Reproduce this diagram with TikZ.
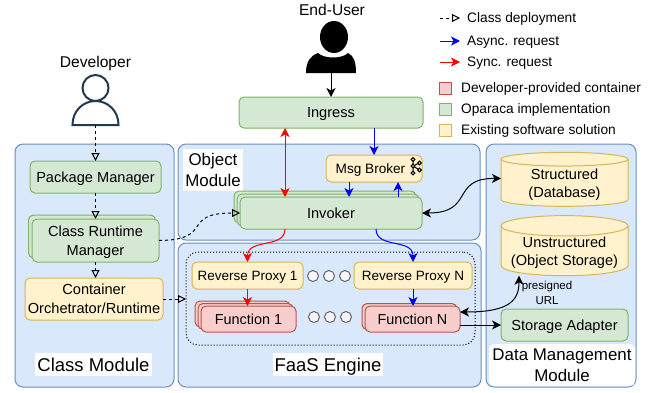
\documentclass[tikz,border=0pt]{standalone}
\usepackage{fontspec}
\setmainfont{Liberation Sans}
\usetikzlibrary{arrows.meta,shapes.geometric}
\definecolor{modfill}{HTML}{DAE8FC}
\definecolor{modline}{HTML}{6C8EBF}
\definecolor{gfill}{HTML}{D5E8D4}
\definecolor{gline}{HTML}{82B366}
\definecolor{yfill}{HTML}{FFF2CC}
\definecolor{yline}{HTML}{D6B656}
\definecolor{rfill}{HTML}{F8CECC}
\definecolor{rline}{HTML}{B85450}
\definecolor{devline}{HTML}{23394F}
\begin{document}
\begin{tikzpicture}[x=1pt, y=-1pt, >={Stealth[length=9pt,width=9pt,inset=2.5pt]},
	box/.style={draw, rounded corners=5pt, inner sep=0pt, outer sep=0pt, line width=1pt, align=center, text depth=0pt, font=\fontsize{14.6}{19}\selectfont},
	modbox/.style={box, draw=modline, fill=modfill, rounded corners=8pt},
	gbox/.style={box, draw=gline, fill=gfill},
	ybox/.style={box, draw=yline, fill=yfill},
	rbox/.style={box, draw=rline, fill=rfill},
	store/.style={cylinder, shape border rotate=90, aspect=0.19, draw=yline, fill=yfill, line width=1pt, inner sep=0pt, outer sep=0pt, align=center, text depth=0pt, minimum width=127pt, minimum height=54pt, font=\fontsize{14.6}{18.5}\selectfont},
	title/.style={fill=white, inner sep=0pt, align=center, text depth=0pt},
	dotnode/.style={circle, draw=black!60, fill=black!4, line width=1pt, inner sep=0pt, outer sep=0pt, minimum size=11pt},
	swatch/.style={draw, line width=1pt, inner sep=0pt, minimum size=12pt},
	legend/.style={anchor=west, inner sep=0pt, text depth=0pt, font=\fontsize{13.7}{16}\selectfont},
	deploy/.style={line width=1pt, dash pattern=on 3pt off 3pt, -{Triangle[open,length=8pt,width=8pt]}},
	async/.style={blue, line width=1pt, ->},
	sync/.style={red, line width=1pt, ->}]
	\useasboundingbox (0,0) rectangle (660,392);
	\node[modbox, minimum width=159pt, minimum height=243pt] (classmod) at (94.5,265.5) {};
	\node[modbox, minimum width=302pt, minimum height=96pt] (objmod) at (329,192) {};
	\node[modbox, minimum width=303pt, minimum height=144pt] (faasmod) at (329.5,315) {};
	\node[modbox, minimum width=150pt, minimum height=243pt] (datamod) at (561,265.5) {};
	\node[title, minimum width=117pt, minimum height=23pt, font=\fontsize{18.5}{22}\selectfont] (classlabel) at (93.5,364.5) {Class Module};
	\node[title, minimum width=110pt, minimum height=23pt, font=\fontsize{18.5}{22}\selectfont] (faaslabel) at (328,364.5) {FaaS Engine};
	\node[title, minimum width=60pt, minimum height=42pt, font=\fontsize{16.9}{21}\selectfont] (objlabel) at (213,170) {Object\\Module};
	\node[title, rounded corners=5pt, minimum width=146pt, minimum height=42pt, font=\fontsize{16.9}{20.7}\selectfont] (datalabel) at (562,365) {Data Management\\Module};
	\node[draw, dotted, line width=1pt, rounded corners=12pt, inner sep=0pt, outer sep=0pt, minimum width=289pt, minimum height=93pt] (engine) at (330.5,298.5) {};
	\node[inner sep=0pt, text depth=0pt, font=\fontsize{15.6}{18}\selectfont] (developer) at (95.5,62) {Developer};
	\draw[devline, line width=2pt] (95.5,88) circle (13pt);
	\draw[devline, line width=2pt] (72.5,125) .. controls (72.5,110) and (84,101) .. (95.5,101) .. controls (107,101) and (118.5,110) .. (118.5,125) -- cycle;
	\coordinate (devbase) at (95.5,125);
	\node[inner sep=0pt, text depth=0pt, font=\fontsize{15.6}{18}\selectfont] (enduser) at (332,9.5) {End-User};
	\fill[black] (334,37) ellipse [x radius=14pt, y radius=16pt];
	\fill[black] (306,73) .. controls (306,62) and (310,56) .. (318,53) .. controls (324,59) and (342,59) .. (348,53) .. controls (354,56) and (356,62) .. (356,73) -- cycle;
	\coordinate (userbase) at (331,73);
	\node[gbox, minimum width=184pt, minimum height=31pt] (ingress) at (331,112.5) {Ingress};
	\node[gbox, minimum width=131pt, minimum height=32pt] (package) at (95.5,177) {Package Manager};
	\node[gbox, minimum width=127pt, minimum height=43pt] (crmC) at (92,236.5) {};
	\node[gbox, minimum width=127pt, minimum height=43pt] (crm) at (95.5,240.5) {Class Runtime\\Manager};
	\node[ybox, minimum width=138pt, minimum height=42pt] (container) at (94,299) {Container\\Orchetrator/Runtime};
	\node[ybox, minimum width=96pt, minimum height=27pt, font=\fontsize{13.6}{16}\selectfont] (broker) at (374,168.5) {Msg Broker\hspace{7pt}};
	\node[gbox, minimum width=182pt, minimum height=32pt] (invokerC) at (325,207) {};
	\node[gbox, minimum width=182pt, minimum height=32pt] (invokerB) at (328,210) {};
	\node[gbox, minimum width=182pt, minimum height=32pt] (invoker) at (331,213) {Invoker};
	\node[ybox, minimum width=111pt, minimum height=27pt, font=\fontsize{13.5}{16}\selectfont] (proxyA) at (247.5,275.5) {Reverse Proxy 1};
	\node[ybox, minimum width=118pt, minimum height=27pt, font=\fontsize{13.5}{16}\selectfont] (proxyN) at (413,275.5) {Reverse Proxy N};
	\node[rbox, minimum width=95pt, minimum height=26pt] (funcAC) at (242.5,314) {};
	\node[rbox, minimum width=95pt, minimum height=26pt] (funcAB) at (245.5,316.5) {};
	\node[rbox, minimum width=95pt, minimum height=26pt, font=\fontsize{14.4}{17}\selectfont] (funcA) at (248.5,319) {Function 1};
	\node[rbox, minimum width=95pt, minimum height=26pt] (funcNB) at (409.5,316.5) {};
	\node[rbox, minimum width=95pt, minimum height=26pt, font=\fontsize{14.4}{17}\selectfont] (funcN) at (412.5,319) {Function N};
	\foreach \i/\cx in {1/313, 2/329, 3/345} {
		\node[dotnode] (dotA\i) at (\cx,276) {};
		\node[dotnode] (dotB\i) at (\cx+1,317) {};
	}
	\node[store] (structured) at (564.5,183) {Structured\\(Database)};
	\node[store] (unstructured) at (564.5,251) {Unstructured\\(Object Storage)};
	\node[gbox, minimum width=127pt, minimum height=32pt] (adapter) at (564.5,325) {Storage Adapter};
	\node[inner sep=0pt, align=center, font=\fontsize{11.5}{15}\selectfont] (presigned) at (547,293) {presigned\\URL};
	\draw[line width=1pt] (413,159.5) -- (413,173) (413,166) -- (419.5,163) (413,166) -- (419.5,170);
	\foreach \cx/\cy in {413/159.5, 413/166, 413/173, 419.5/163, 419.5/170}
		\draw[line width=1pt, fill=yfill] (\cx,\cy) circle (1.9pt);
	\draw[deploy] (devbase) -- (package.north);
	\draw[deploy] (package.south) -- (crm.north -| package.south);
	\draw[deploy] (crm.south) -- (crm.south |- container.north);
	\draw[deploy] (crm.east) .. controls (215,240) and (180,213) .. (invoker.west);
	\draw[deploy] (container.east) -- (container.east -| engine.west);
	\draw[line width=1pt, ->] (userbase) -- (ingress.north -| userbase);
	\draw[sync, <->] ([xshift=-46pt]ingress.south) -- ([xshift=-46pt]invoker.north);
	\draw[async] ([xshift=43pt]ingress.south) -- (broker.north);
	\draw[async] ([xshift=-25pt]broker.south) -- ([xshift=18pt]invoker.north);
	\draw[async] ([xshift=67pt]invoker.north) -- ([xshift=24pt]broker.south);
	\draw[sync] ([xshift=-46pt]invoker.south) .. controls +(0,20) and +(0,-24) .. (proxyA.north);
	\draw[async] ([xshift=45pt]invoker.south) .. controls +(0,20) and +(0,-24) .. (proxyN.north);
	\draw[sync] (proxyA.south) -- (funcA.north -| proxyA.south);
	\draw[async] (proxyN.south) -- (funcN.north -| proxyN.south);
	\draw[line width=1pt, <->] (invoker.east) .. controls (475,213) and (450,178) .. ([yshift=4.5pt]structured.west);
	\draw[line width=1pt, <->] ([yshift=7pt]funcN.east) .. controls (510,312) and (519,300) .. ([xshift=-45.5pt]unstructured.south);
	\draw[line width=1pt, ->] (funcN.east |- adapter.west) -- (adapter.west);
	\coordinate (legA) at (440,18);
	\coordinate (legB) at (440,41);
	\coordinate (legC) at (440,62);
	\node[legend] (classdep) at (467,18) {Class deployment};
	\node[legend] (asyncreq) at (467,41) {Async. request};
	\node[legend] (syncreq) at (467,62) {Sync. request};
	\draw[deploy] (legA) -- ([xshift=-7pt]classdep.west);
	\draw[async] (legB) -- ([xshift=-7pt]asyncreq.west);
	\draw[sync] (legC) -- ([xshift=-7pt]syncreq.west);
	\node[swatch, draw=rline, fill=rfill] (swatchA) at (445,88.5) {};
	\node[swatch, draw=gline, fill=gfill] (swatchB) at (445,109.5) {};
	\node[swatch, draw=yline, fill=yfill] (swatchC) at (445,130.5) {};
	\node[legend] (devtext) at (461,88) {Developer-provided container};
	\node[legend] (impltext) at (461,109) {Oparaca implementation};
	\node[legend] (soltext) at (461,130) {Existing software solution};
\end{tikzpicture}
\end{document}
